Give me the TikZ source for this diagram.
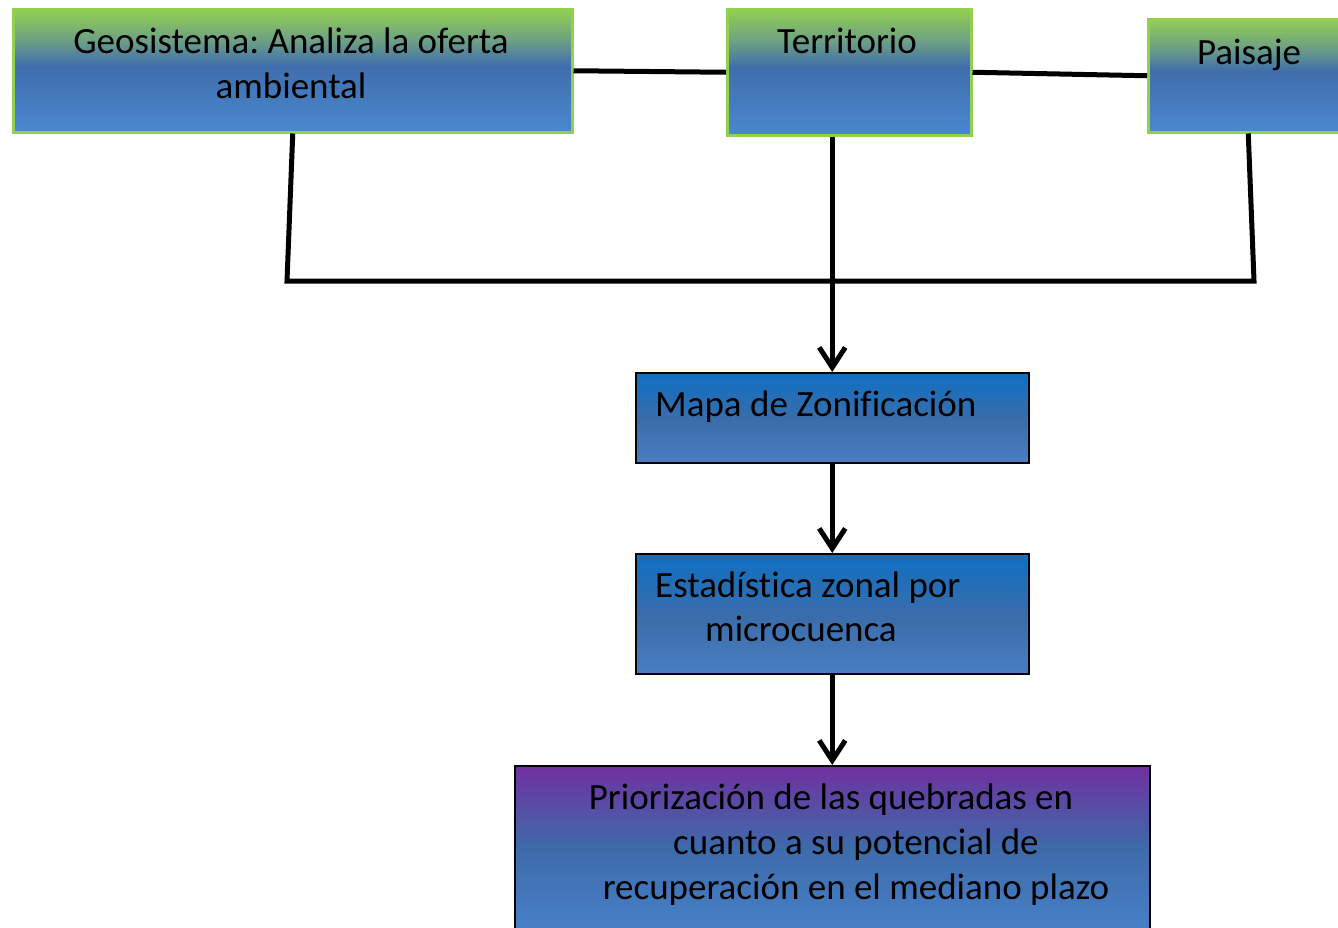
\documentclass[tikz,border=0pt]{standalone}
\usepackage{fontspec}
\setmainfont{Carlito}[Ligatures=CommonOff]
\usetikzlibrary{arrows.meta}
\definecolor{gtop}{HTML}{92D050}
\definecolor{gmid}{HTML}{6C9E86}
\definecolor{dblue}{HTML}{3F6EAC}
\definecolor{lblue}{HTML}{4A88D0}
\definecolor{btop}{HTML}{0E6FC2}
\definecolor{bmid}{HTML}{3C6DAA}
\definecolor{bbot}{HTML}{4A7EC2}
\definecolor{ptop}{HTML}{7030A0}
\definecolor{pmid}{HTML}{3D6BAA}
\definecolor{pbot}{HTML}{4A84CC}
\definecolor{gborder}{HTML}{92D050}
\pgfdeclareverticalshading{geoshade}{100bp}{color(0bp)=(lblue); color(25bp)=(lblue); color(52bp)=(dblue); color(62bp)=(gmid); color(75bp)=(gtop); color(100bp)=(gtop)}
\pgfdeclareverticalshading{blueshade}{100bp}{color(0bp)=(bbot); color(25bp)=(bbot); color(48bp)=(bmid); color(75bp)=(btop); color(100bp)=(btop)}
\pgfdeclareverticalshading{purpleshade}{100bp}{color(0bp)=(pbot); color(25bp)=(pbot); color(52bp)=(pmid); color(75bp)=(ptop); color(100bp)=(ptop)}
\tikzset{
  topbox/.style={draw=gborder, line width=2.5pt, shading=geoshade, anchor=north west, inner sep=0pt},
  bluebox/.style={draw=black, line width=1.5pt, shading=blueshade, anchor=north west, inner sep=0pt},
  purplebox/.style={draw=black, line width=1.5pt, shading=purpleshade, anchor=north west, inner sep=0pt},
  lbl/.style={anchor=base, inner sep=0pt, font=\fontsize{37}{45}\selectfont},
  lblw/.style={anchor=base west, inner sep=0pt, font=\fontsize{37}{45}\selectfont},
  conn/.style={line width=5pt, draw=black},
  arr/.style={conn, -{Straight Barb[length=20pt,width=26pt]}}
}
\begin{document}
\frenchspacing
\begin{tikzpicture}[x=1pt,y=-1pt]
\useasboundingbox (0,0) rectangle (1338,927);
\clip (0,0) rectangle (1338,927);
\fill[white] (0,0) rectangle (1338,927);
% boxes
\node[topbox, minimum width=559pt, minimum height=123pt] (geo) at (12,8) {};
\node[topbox, minimum width=244pt, minimum height=126pt] (terr) at (726,8) {};
\node[topbox, minimum width=200pt, minimum height=113pt] (pais) at (1147,18) {};
\node[bluebox, minimum width=393pt, minimum height=90pt] (mapa) at (635,372) {};
\node[bluebox, minimum width=393pt, minimum height=120pt] (est) at (635,553) {};
\node[purplebox, minimum width=635pt, minimum height=180pt] (pri) at (514,765) {};
% labels
\node[lbl] (geoA) at (291,53) {Geosistema: Analiza la oferta};
\node[lbl] (geoB) at (291,98) {ambiental};
\node[lbl] (terrA) at (847,53) {Territorio};
\node[lbl] (paisA) at (1249,64) {Paisaje};
\node[lblw] (mapaA) at (655,416) {Mapa de Zonif{}icación};
\node[lblw] (estA) at (655,597) {Estadística zonal por};
\node[lblw] (estB) at (705,641) {microcuenca};
\node[lbl] (priA) at (831,809) {Priorización de las quebradas en};
\node[lbl] (priB) at (856,854) {cuanto a su potencial de};
\node[lbl] (priC) at (856,899) {recuperación en el mediano plazo};
% connectors
\coordinate (jl) at (287,281);
\coordinate (jr) at (1254,281);
\draw[conn] (geo.east) -- (terr.west);
\draw[conn] (terr.east) -- (pais.west);
\draw[conn] (geo.south) -- (jl) -- (jr) -- (pais.south);
\draw[arr] (terr.south -| mapa.north) -- (mapa.north);
\draw[arr] (mapa.south) -- (est.north);
\draw[arr] (est.south) -- (pri.north -| est.south);
\end{tikzpicture}
\end{document}
